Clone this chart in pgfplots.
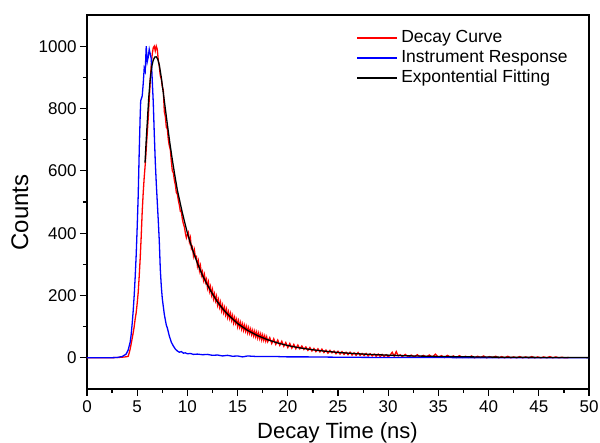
\documentclass[border=0pt]{standalone}
\usepackage{pgfplots}
\pgfplotsset{compat=1.18}
\usepackage{fontspec}
\setmainfont{Liberation Sans}
\begin{document}
\begin{tikzpicture}
\begin{axis}[
  scale only axis, width=502pt, height=374pt,
  xmin=0, xmax=50, ymin=-100, ymax=1100,
  xtick={0,5,...,50}, ytick={0,200,...,1000},
  minor x tick num=1, minor y tick num=1,
  tick align=outside, xtick pos=bottom, ytick pos=left,
  major tick length=7pt, minor tick length=4pt,
  axis line style={line width=1.3pt},
  every tick/.style={line width=1.2pt},
  /pgf/number format/assume math mode=true,
  /pgf/number format/set thousands separator={},
  tick label style={font=\fontsize{17}{17}\selectfont},
  xticklabel style={yshift=-1pt},
  xlabel={Decay Time (ns)}, ylabel={Counts},
  xlabel style={font=\fontsize{22}{22}\selectfont, at={(axis description cs:0.499,-0.133)}, anchor=base},
  ylabel style={font=\fontsize{24}{24}\selectfont, at={(axis description cs:-0.1335,0.472)}, anchor=center},
  legend style={draw=none, fill=none, at={(rel axis cs:0.536,0.963)}, anchor=north west,
    font=\fontsize{17.5}{17.5}\selectfont, row sep=3pt, inner sep=0pt,
    nodes={text height=13pt, text depth=4pt, inner xsep=3pt, inner ysep=0pt}},
  legend cell align=left,
  legend image code/.code={\draw[#1,line width=2pt] (0pt,0pt) -- (40pt,0pt);},
]
\coordinate (sw) at (rel axis cs:0,0);
\coordinate (ne) at (rel axis cs:1,1);
% Decay curve
\addplot[color=red, line width=1.3pt] coordinates {
(0,0)(1,0)(2,0)(3,1)(3.5,2)(3.8,3)(4.0,4)(4.1,5)(4.2,15)(4.3,28)(4.4,45)(4.5,62)(4.6,80)(4.7,100)(4.8,125)(4.9,145)(5.0,175)(5.1,210)(5.2,262)(5.3,320)(5.4,390)(5.5,470)(5.6,530)(5.7,580)(5.8,620)(5.9,670)(6.0,720)(6.1,770)(6.2,830)(6.3,890)(6.4,940)(6.5,975)(6.6,995)(6.7,1000)(6.8,985)(6.9,1000)(7.0,990)(7.1,955)(7.2,935)(7.3,905)(7.4,895)(7.5,870)(7.6,860)(7.7,790)(7.8,775)(7.9,740)(8.0,735)(8.1,700)(8.2,680)(8.3,668)(8.4,630)(8.5,600)(8.6,594)(8.7,570)(8.8,555)(8.9,530)(9.0,525)(9.1,505)(9.2,490)(9.3,470)(9.4,468)(9.5,445)(9.6,430)(9.7,420)(9.8,400)(9.9,385)(10.0,395)
(10.1,402)(10.2,372)(10.3,385)(10.4,350)(10.5,356)(10.6,328)(10.7,345)(10.8,322)(10.9,325)(11.0,295)(11.1,310)(11.2,280)(11.3,295)(11.4,265)(11.5,276)(11.6,250)(11.7,266)(11.8,242)(11.9,252)(12.0,225)(12.1,242)(12.2,214)(12.3,228)(12.4,202)(12.5,218)(12.6,190)(12.7,205)(12.8,183)(12.9,197)(13.0,170)(13.1,186)(13.2,163)(13.3,178)(13.4,152)(13.5,168)(13.6,146)(13.7,161)(13.8,139)(13.9,155)(14.0,131)(14.1,147)(14.2,127)(14.3,142)(14.4,121)(14.5,135)(14.6,113)(14.7,129)(14.8,111)(14.9,123)(15.0,101)(15.1,118)(15.2,99)(15.3,113)(15.4,93)(15.5,108)(15.6,89)(15.7,104)(15.8,86)(15.9,100)(16.0,81)(16.1,96)(16.2,79)(16.3,92)(16.4,75)(16.5,88)(16.6,71)(16.7,85)(16.8,68)(16.9,82)(17.0,64)(17.1,79)(17.2,62)(17.3,76)(17.4,58)(17.5,73)(17.6,57)(17.7,70)(17.8,54)(17.9,67)(18.0,52)(18.2,65)(18.4,46)(18.6,61)(18.8,43)(19.0,57)(19.2,40)(19.4,53)(19.6,37)(19.8,49)(20.0,33)(20.2,46)(20.4,31)(20.6,43)(20.8,29)(21.0,41)(21.2,29)(21.4,38)(21.6,27)(21.8,35)(22.0,24)(22.2,33)(22.4,22)(22.6,30)(22.8,20)(23.0,29)(23.2,19)(23.4,28)(23.6,17)(23.8,25)(24.0,15)(24.2,24)(24.4,16)(24.6,22)(24.8,13)(25.0,21)(25.2,12)(25.4,20)(25.6,11)(25.8,18)(26.0,10)(26.2,18)(26.4,9)(26.6,16)(26.8,8)(27.0,17)(27.2,8)(27.4,14)(27.6,7)(27.8,14)(28.0,6)(28.2,13)(28.4,6)(28.6,12)(28.8,5)(29.0,12)(29.2,4)(29.4,11)(29.6,4)(29.8,10)(30.0,3)(30.2,9)(30.4,18)(30.6,5)(30.8,20)(31.0,6)(31.2,10)(31.4,4)(31.7,11)(32.0,3)(32.3,9)(32.6,3)(32.9,10)(33.2,2)(33.5,8)(33.8,3)(34.1,9)(34.4,2)(34.7,12)(35.0,2)(35.3,7)(35.6,1)(35.9,8)(36.2,2)(36.5,6)(36.8,1)(37.1,7)(37.4,1)(37.7,5)(38.0,1)(38.3,6)(38.6,0)(38.9,5)(39.2,1)(39.5,6)(39.8,0)(40.1,4)(40.4,1)(40.7,5)(41.0,0)(41.3,4)(41.6,0)(41.9,5)(42.2,0)(42.5,3)(42.8,0)(43.1,4)(43.4,0)(43.7,3)(44.0,0)(44.3,4)(44.6,0)(44.9,3)(45.2,0)(45.5,3)(45.8,0)(46.1,4)(46.4,0)(46.7,3)(47.0,0)(47.3,2)(47.6,0)(48.0,1)
};
\addlegendentry{Decay Curve}
% Instrument response
\addplot[color=blue, line width=1.3pt] coordinates {
(0,0)(2.0,0)(3.0,1)(3.3,3)(3.5,4)(3.7,8)(3.9,12)(4.1,25)(4.3,50)(4.4,75)(4.5,110)(4.6,150)(4.7,200)(4.8,260)(4.9,330)(5.0,420)(5.1,520)(5.2,660)(5.3,780)(5.35,825)(5.4,830)(5.5,840)(5.6,880)(5.7,930)(5.8,920)(5.9,1000)(6.0,950)(6.1,965)(6.2,990)(6.3,975)(6.4,960)(6.5,890)(6.6,820)(6.7,720)(6.8,630)(6.9,560)(7.0,500)(7.1,440)(7.2,375)(7.3,285)(7.4,230)(7.5,190)(7.6,165)(7.7,140)(7.8,122)(7.9,105)(8.0,96)(8.2,70)(8.4,50)(8.6,38)(8.8,28)(9.0,22)(9.2,18)(9.4,20)(9.6,15)(9.8,16)(10.0,13)(10.3,14)(10.6,11)(11.0,12)(11.5,10)(12.0,11)(12.5,8)(13.0,9)(13.5,6)(14.0,8)(14.5,5)(15.0,6)(15.5,3)(16.0,6)(17.0,4)(18.0,4)(19.0,4)(20.0,3)(22.0,3)(25.0,2)(30.0,1)(35.0,1)(40.0,0)(45.0,0)(50.0,0)
};
\addlegendentry{Instrument Response}
% Exponential fitting
\addplot[color=black, line width=1.3pt] coordinates {
(5.78,626)(5.9,700)(6.0,754)(6.15,835)(6.3,895)(6.45,935)(6.6,955)(6.75,965)(6.9,966)(7.05,958)(7.2,940)(7.4,900)(7.6,850)(7.8,800)(8.0,750)(8.25,690)(8.5,635)(8.75,585)(9.0,538)(9.5,465)(10.0,400)(10.5,348)(11.0,303)(11.5,265)(12.0,233)(12.5,205)(13.0,179)(13.5,158)(14.0,140)(15.0,110)(16.0,88)(17.0,71)(18.0,58)(19.0,47.6)(20.0,39.5)(21.0,33)(22.0,28)(23.0,23.7)(24.0,20.3)(25.0,17.4)(26.0,15)(27.0,13)(28.0,11.3)(30.0,8.6)(32.0,6.4)(35.0,4.4)(40.0,2.4)(45.0,1.3)(50.0,0.7)
};
\addlegendentry{Expontential Fitting}
\end{axis}
\pgfresetboundingbox
\path[use as bounding box] ([shift={(-87pt,-54pt)}]sw) rectangle ([shift={(11pt,15pt)}]ne);
\end{tikzpicture}
\end{document}
